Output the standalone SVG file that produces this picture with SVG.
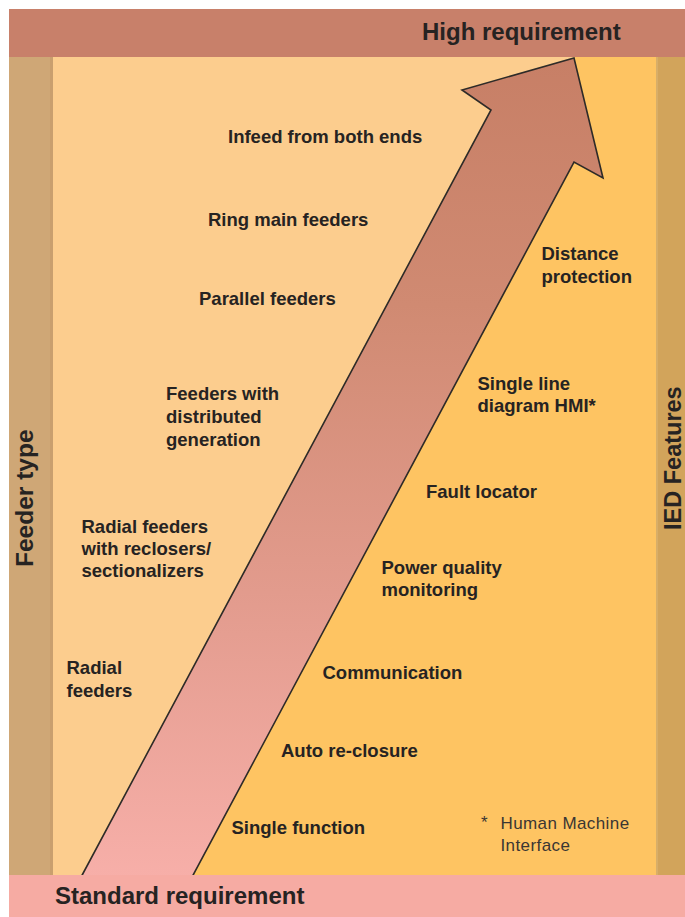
<svg xmlns="http://www.w3.org/2000/svg" width="685" height="917" viewBox="0 0 685 917">
  <defs>
    <linearGradient id="arrowGrad" gradientUnits="userSpaceOnUse" x1="0" y1="880" x2="0" y2="58">
      <stop offset="0" stop-color="#F7AFA9"/>
      <stop offset="0.35" stop-color="#E29B8D"/>
      <stop offset="0.7" stop-color="#D08A72"/>
      <stop offset="1" stop-color="#C77F66"/>
    </linearGradient>
    <style>
      .lbl { font-family: "Liberation Sans", Arial, sans-serif; font-weight: bold; font-size: 18.5px; fill: #262322; }
      .big { font-family: "Liberation Sans", Arial, sans-serif; font-weight: bold; font-size: 24px; fill: #262322; }
      .note { font-family: "Liberation Sans", Arial, sans-serif; font-size: 17px; letter-spacing: 0.4px; fill: #3a3633; }
    </style>
  </defs>

  <rect x="0" y="0" width="685" height="917" fill="#FFFFFF"/>

  <g id="background">
    <rect x="9" y="57" width="647" height="818" fill="#FCCD8E"/>
    <polygon points="137.5,875 574,57 656,57 656,875" fill="#FEC462"/>
  </g>

  <g id="arrow">
    <polygon points="79.5,880 491,110 462,90 574,58 603,178 574,162 190.5,880" fill="url(#arrowGrad)" stroke="#2e2b28" stroke-width="1.6" stroke-linejoin="miter"/>
  </g>

  <g id="top-bar">
    <rect x="9" y="9" width="676" height="48" fill="#C8806A"/>
    <text class="big" x="422" y="39.5">High requirement</text>
  </g>

  <g id="bottom-bar">
    <rect x="9" y="875" width="676" height="42" fill="#F6ABA3"/>
    <text class="big" x="55" y="904">Standard requirement</text>
  </g>

  <g id="left-bar">
    <rect x="9" y="57" width="44" height="818" fill="#CFA776"/>
    <rect x="50" y="57" width="3" height="818" fill="#C99F6E"/>
    <text class="big" transform="translate(33,567) rotate(-90)" style="font-size:24.5px">Feeder type</text>
  </g>

  <g id="right-bar">
    <rect x="656" y="57" width="29" height="818" fill="#D2A45B"/>
    <rect x="656" y="57" width="2" height="818" fill="#D8AE68"/>
    <text class="big" transform="translate(681,530) rotate(-90)" style="font-size:23.5px">IED Features</text>
  </g>

  <g id="feeder-infeed"><text class="lbl" x="228" y="143">Infeed from both ends</text></g>
  <g id="feeder-ring"><text class="lbl" x="208" y="226">Ring main feeders</text></g>
  <g id="feeder-parallel"><text class="lbl" x="199" y="305">Parallel feeders</text></g>
  <g id="feeder-distributed">
    <text class="lbl" x="166" y="400">Feeders with</text>
    <text class="lbl" x="166" y="423">distributed</text>
    <text class="lbl" x="166" y="445.5">generation</text>
  </g>
  <g id="feeder-reclosers">
    <text class="lbl" x="81.5" y="532.5">Radial feeders</text>
    <text class="lbl" x="81.5" y="555">with reclosers/</text>
    <text class="lbl" x="81.5" y="577">sectionalizers</text>
  </g>
  <g id="feeder-radial">
    <text class="lbl" x="66.5" y="674">Radial</text>
    <text class="lbl" x="66.5" y="697">feeders</text>
  </g>

  <g id="ied-distance">
    <text class="lbl" x="541.5" y="260">Distance</text>
    <text class="lbl" x="541.5" y="283">protection</text>
  </g>
  <g id="ied-sld">
    <text class="lbl" x="477.5" y="390">Single line</text>
    <text class="lbl" x="477.5" y="412">diagram HMI*</text>
  </g>
  <g id="ied-fault"><text class="lbl" x="426" y="498">Fault locator</text></g>
  <g id="ied-pq">
    <text class="lbl" x="381.5" y="574">Power quality</text>
    <text class="lbl" x="381.5" y="595.5">monitoring</text>
  </g>
  <g id="ied-comm"><text class="lbl" x="322.5" y="679">Communication</text></g>
  <g id="ied-ar"><text class="lbl" x="281" y="756.5">Auto re-closure</text></g>
  <g id="ied-single"><text class="lbl" x="231.5" y="834">Single function</text></g>

  <g id="footnote">
    <text class="note" x="481" y="828">*</text>
    <text class="note" x="500.5" y="828.5">Human Machine</text>
    <text class="note" x="500.5" y="851">Interface</text>
  </g>
</svg>
